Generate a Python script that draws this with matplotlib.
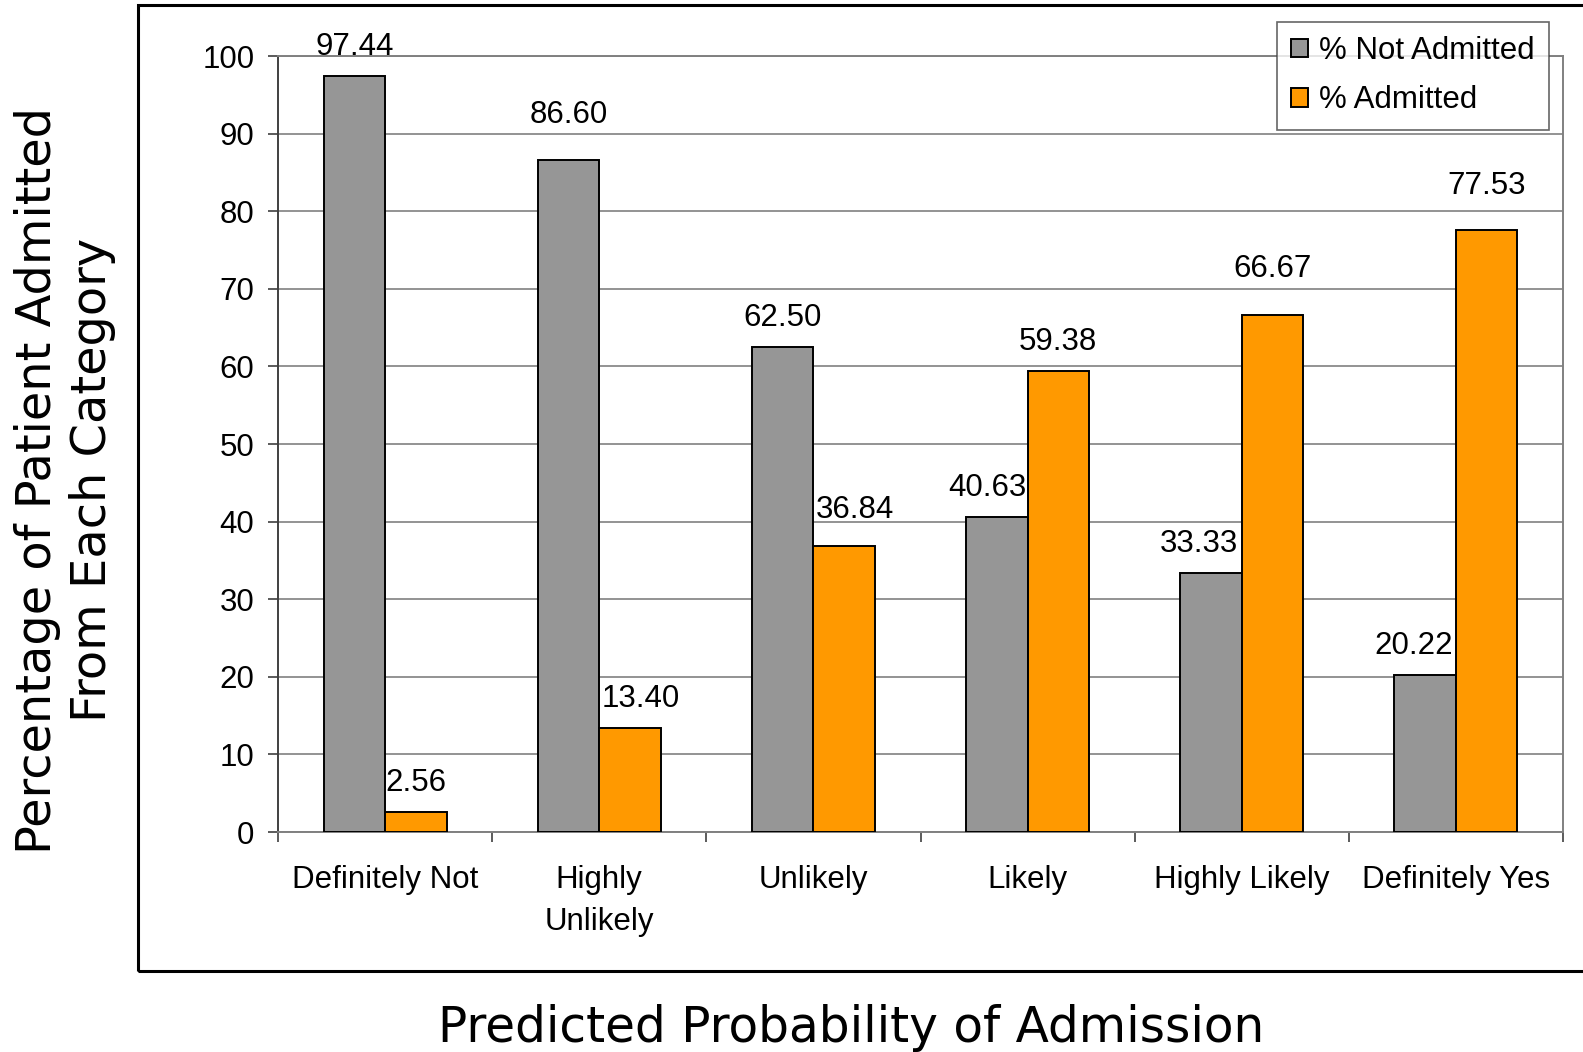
import numpy as np
import matplotlib.pyplot as plt
from matplotlib.patches import Rectangle

categories = ["Definitely Not", "Highly\nUnlikely", "Unlikely", "Likely",
              "Highly Likely", "Definitely Yes"]
not_admitted = [97.44, 86.60, 62.50, 40.63, 33.33, 20.22]
admitted = [2.56, 13.40, 36.84, 59.38, 66.67, 77.53]
series_names = ["% Not Admitted", "% Admitted"]
yticks = [0, 10, 20, 30, 40, 50, 60, 70, 80, 90, 100]

# label nudges in points (x, y), as placed in the original to dodge neighbours
nudge_not = [(0, 0), (0, 11.5), (0, 0), (-7, 0), (-8.5, 0), (-8, 0)]
nudge_adm = [(0, 0), (8, 0), (8, 5), (0, 0), (0, 12), (0, 11)]

GREY = "#969696"
ORANGE = "#FF9900"
TICKFONT = "Liberation Sans"
FS = 22.5

fig = plt.figure(figsize=(15.83, 10.52), dpi=100)

# outer chart border (runs off the right edge like the original)
fig.patches.append(Rectangle((138 / 1583, 81 / 1052), 1.2, 966 / 1052,
                             transform=fig.transFigure, fill=False,
                             edgecolor="black", linewidth=2.2, zorder=0))

ax = fig.add_axes([278 / 1583, 220 / 1052, 1285 / 1583, 776 / 1052])

x = np.arange(len(categories))
w = 0.287
b1 = ax.bar(x - w / 2, not_admitted, w, color=GREY, edgecolor="black",
            linewidth=1.4, label=series_names[0], zorder=3)
b2 = ax.bar(x + w / 2, admitted, w, color=ORANGE, edgecolor="black",
            linewidth=1.4, label=series_names[1], zorder=3)

for bars, vals, nudges in ((b1, not_admitted, nudge_not), (b2, admitted, nudge_adm)):
    for r, v, (dx, dy) in zip(bars, vals, nudges):
        ax.annotate(f"{v:.2f}", (r.get_x() + r.get_width() / 2, v),
                    xytext=(dx, 10 + dy), textcoords="offset points",
                    ha="center", va="bottom", fontsize=FS, family=TICKFONT)

ax.set_xlim(-0.5, len(categories) - 0.5)
ax.set_ylim(0, 100)
ax.set_yticks(yticks)
ax.yaxis.grid(True, color="#808080", linewidth=1.2, zorder=0)
ax.set_axisbelow(True)

ax.set_xticks(np.arange(len(categories) + 1) - 0.5)
ax.set_xticklabels([])
ax.set_xticks(x, minor=True)
ax.set_xticklabels(categories, minor=True, fontsize=FS, family=TICKFONT,
                   linespacing=1.5, va="top")
ax.tick_params(axis="x", which="major", length=7, width=1.2, color="#404040")
ax.tick_params(axis="x", which="minor", length=0, pad=24)
ax.tick_params(axis="y", length=7, width=1.2, color="#404040", pad=10,
               labelsize=FS)
for lab in ax.get_yticklabels():
    lab.set_family(TICKFONT)

for side in ("top", "right", "bottom"):
    ax.spines[side].set_color("#808080")
    ax.spines[side].set_linewidth(1.4)
ax.spines["left"].set_color("#404040")
ax.spines["left"].set_linewidth(1.4)

leg = ax.legend(loc="upper right", bbox_to_anchor=(1283 / 1583, 0, 266 / 1583, 1030 / 1052),
                bbox_transform=fig.transFigure, prop={"family": TICKFONT, "size": FS},
                frameon=True, fancybox=False, handlelength=0.55, handleheight=0.55,
                handletextpad=0.35, borderpad=0.45, labelspacing=0.62, borderaxespad=0)
leg.get_frame().set_edgecolor("#404040")
leg.get_frame().set_linewidth(1.2)

fig.text(65 / 1583, 1 - 480 / 1052, "Percentage of Patient Admitted\nFrom Each Category",
         rotation=90, ha="center", va="center", fontsize=34.5, family="DejaVu Sans",
         linespacing=1.2)
fig.text(851 / 1583, 1 - 1028 / 1052, "Predicted Probability of Admission",
         ha="center", va="center", fontsize=35, family="DejaVu Sans")

fig.savefig("out.png", dpi=100)
